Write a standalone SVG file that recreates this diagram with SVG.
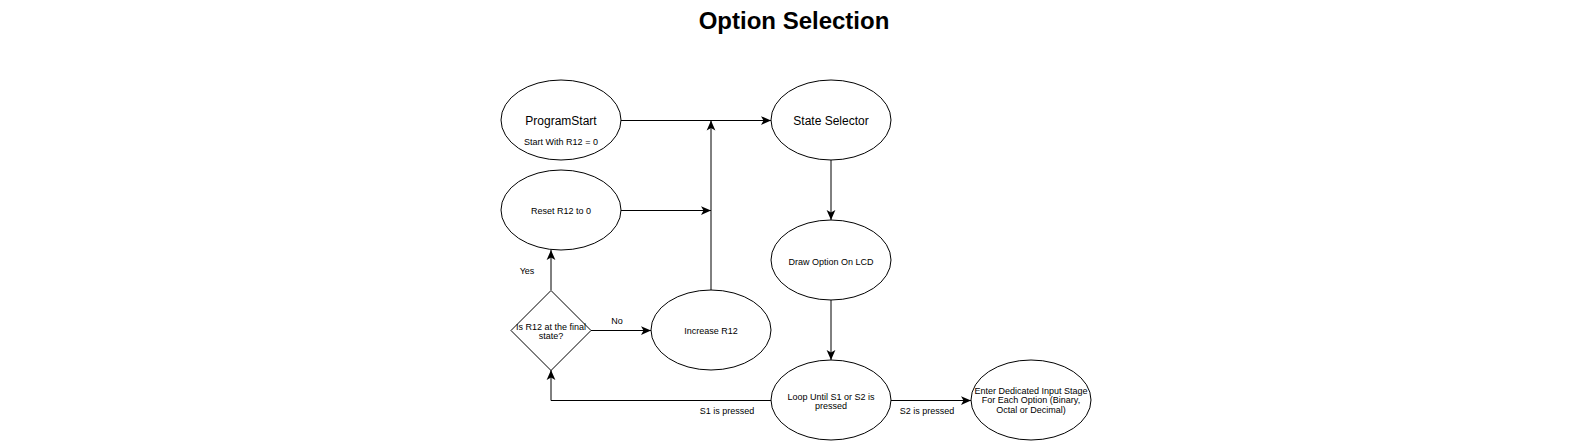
<svg xmlns="http://www.w3.org/2000/svg" width="1591" height="441" viewBox="0 0 1591 441">
<style>
.n{fill:#fff;stroke:#000;stroke-width:1}
.t{font-family:"Liberation Sans",Arial,sans-serif;fill:#000;text-anchor:middle}
.s9{font-size:9px}
.s12{font-size:12px}
.c{fill:none;stroke:#000;stroke-width:1}
</style>
<defs>
<marker id="ar" markerUnits="userSpaceOnUse" markerWidth="10" markerHeight="10" viewBox="0 0 8 7" refX="8" refY="3.5" orient="auto">
<path d="M0,0 L8,3.5 L0,7 L2,3.5 Z" fill="#000"/>
</marker>
</defs>
<rect width="1591" height="441" fill="#fff"/>
<text class="t" x="794" y="28.5" style="font-size:24px;font-weight:bold">Option Selection</text>
<g id="connectors">
<path class="c" d="M621 120.5 H771" marker-end="url(#ar)"/>
<path class="c" d="M621 210.5 H711" marker-end="url(#ar)"/>
<path class="c" d="M711 290 V120.5" marker-end="url(#ar)"/>
<path class="c" d="M831 160 V220" marker-end="url(#ar)"/>
<path class="c" d="M831 300 V360" marker-end="url(#ar)"/>
<path class="c" d="M771 400.5 H551 V370" marker-end="url(#ar)"/>
<path class="c" d="M591 330.5 H651" marker-end="url(#ar)"/>
<path class="c" d="M551 290 V250" marker-end="url(#ar)"/>
<path class="c" d="M891 400.5 H971" marker-end="url(#ar)"/>
<text class="t s9" x="527" y="274">Yes</text>
<text class="t s9" x="617" y="324">No</text>
<text class="t s9" x="727" y="414.3">S1 is pressed</text>
<text class="t s9" x="927" y="414">S2 is pressed</text>
</g>
<g id="programStart">
<ellipse class="n" cx="561" cy="120" rx="60" ry="40"/>
<text class="t s12" x="561" y="125">ProgramStart</text>
<text class="t s9" x="561" y="145">Start With R12 = 0</text>
</g>
<g id="stateSelector">
<ellipse class="n" cx="831" cy="120" rx="60" ry="40"/>
<text class="t s12" x="831" y="125">State Selector</text>
</g>
<g id="resetR12">
<ellipse class="n" cx="561" cy="210" rx="60" ry="40"/>
<text class="t s9" x="561" y="214.3">Reset R12 to 0</text>
</g>
<g id="drawOption">
<ellipse class="n" cx="831" cy="260" rx="60" ry="40"/>
<text class="t s9" x="831" y="265">Draw Option On LCD</text>
</g>
<g id="decision">
<path class="n" d="M551 290.5 L591 330.5 L551 370.5 L511 330.5 Z"/>
<text class="t s9" x="551" y="330">Is R12 at the final</text>
<text class="t s9" x="551" y="339">state?</text>
</g>
<g id="increaseR12">
<ellipse class="n" cx="711" cy="330" rx="60" ry="40"/>
<text class="t s9" x="711" y="333.5">Increase R12</text>
</g>
<g id="loopUntil">
<ellipse class="n" cx="831" cy="400" rx="60" ry="40"/>
<text class="t s9" x="831" y="400">Loop Until S1 or S2 is</text>
<text class="t s9" x="831" y="409">pressed</text>
</g>
<g id="enterDedicated">
<ellipse class="n" cx="1031" cy="400" rx="60" ry="40"/>
<text class="t s9" x="1031" y="394">Enter Dedicated Input Stage</text>
<text class="t s9" x="1031" y="403.3">For Each Option (Binary,</text>
<text class="t s9" x="1031" y="412.6">Octal or Decimal)</text>
</g>
</svg>
